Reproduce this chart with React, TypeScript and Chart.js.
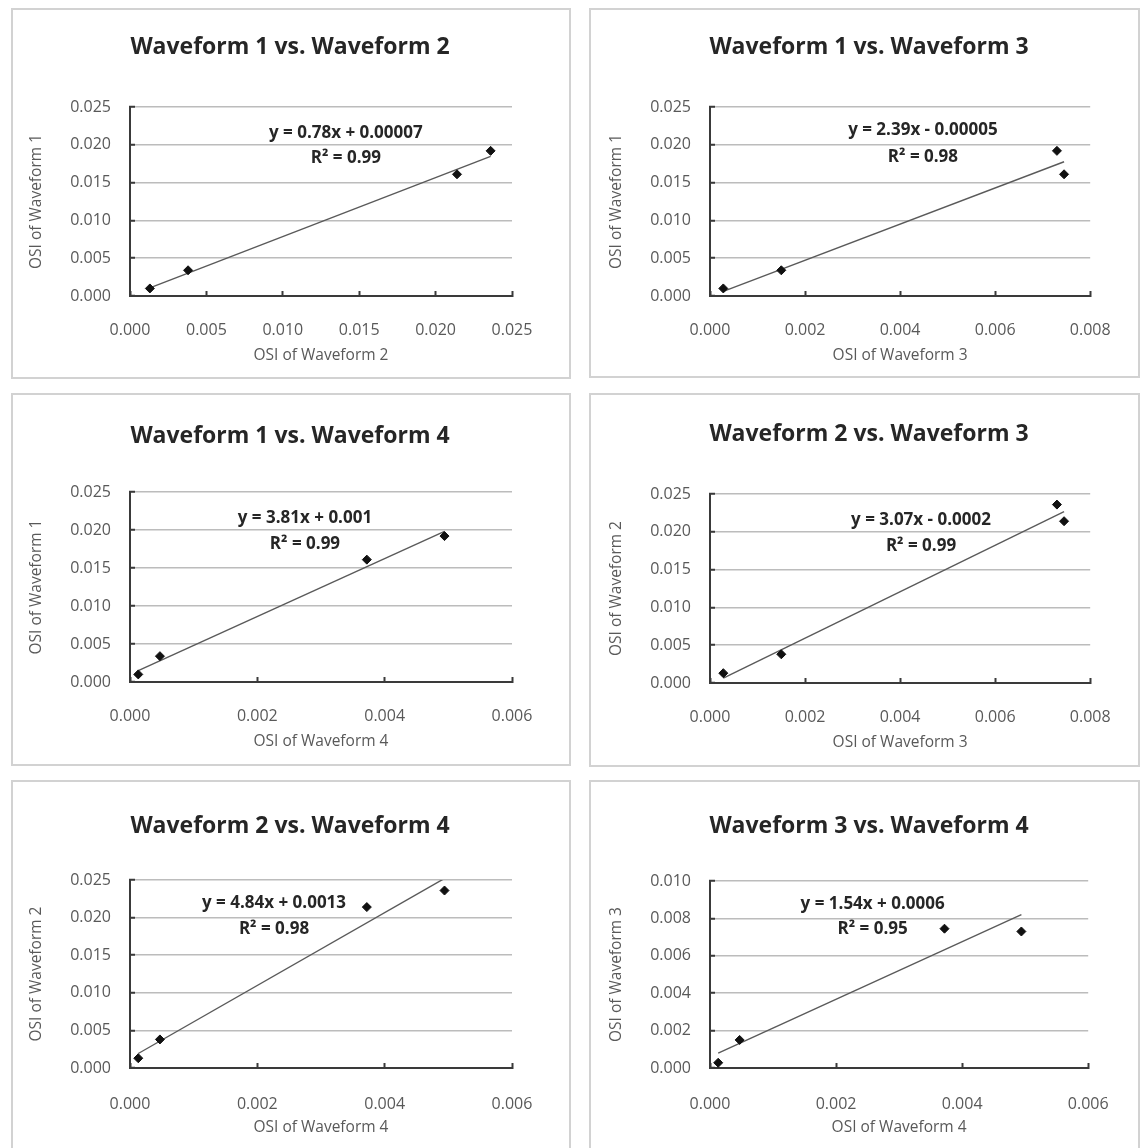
import React, { useEffect, useRef } from "react";
import { Chart, registerables } from "chart.js";

Chart.register(...registerables);

// ---- data ----
const WAVEFORM_1 = [0.001, 0.0034, 0.0161, 0.0192];
const WAVEFORM_2 = [0.0013, 0.0038, 0.0214, 0.0236];
const WAVEFORM_3 = [0.00028, 0.0015, 0.00745, 0.0073];
const WAVEFORM_4 = [0.00013, 0.00047, 0.00372, 0.00494];
const WAVEFORMS = [WAVEFORM_1, WAVEFORM_2, WAVEFORM_3, WAVEFORM_4];

// waveform number plotted on x and y in each panel
const PANEL_X = [2, 3, 4, 3, 4, 4];
const PANEL_Y = [1, 1, 1, 2, 2, 3];

const SLOPES = [0.78, 2.39, 3.81, 3.07, 4.84, 1.54];
const INTERCEPTS = [0.00007, -0.00005, 0.001, -0.0002, 0.0013, 0.0006];
const R_SQUARED = [0.99, 0.98, 0.99, 0.99, 0.98, 0.95];

const TICKS_025 = [0, 0.005, 0.01, 0.015, 0.02, 0.025];
const TICKS_008 = [0, 0.002, 0.004, 0.006, 0.008];
const TICKS_006 = [0, 0.002, 0.004, 0.006];
const TICKS_010 = [0, 0.002, 0.004, 0.006, 0.008, 0.01];
const X_TICKS = [TICKS_025, TICKS_008, TICKS_006, TICKS_008, TICKS_006, TICKS_006];
const Y_TICKS = [TICKS_025, TICKS_025, TICKS_025, TICKS_025, TICKS_025, TICKS_010];

// ---- layout (page pixels) ----
type Lay = {
  box: number[]; // x, y, w, h
  plot: number[]; // left, right, top, bottom
  titleX: number;
  titleY: number;
  xTickY: number;
  xTitleY: number;
  yTitleX: number;
  eq: number[]; // fraction x, fraction y (eq), fraction y (r2)
};
const LAYOUT: Lay[] = [
  { box: [11, 8, 560, 371], plot: [130, 512, 107, 296], titleX: 290, titleY: 47, xTickY: 330, xTitleY: 356, yTitleX: 37, eq: [0.565, 0.138, 0.27] },
  { box: [589, 8, 551, 370], plot: [710, 1091, 107, 296], titleX: 869, titleY: 47, xTickY: 330, xTitleY: 356, yTitleX: 617, eq: [0.56, 0.12, 0.265] },
  { box: [11, 393, 560, 373], plot: [130, 512, 492, 682], titleX: 290, titleY: 436, xTickY: 716, xTitleY: 742, yTitleX: 37, eq: [0.458, 0.137, 0.274] },
  { box: [589, 393, 551, 374], plot: [710, 1091, 494, 683], titleX: 869, titleY: 434, xTickY: 717, xTitleY: 743, yTitleX: 617, eq: [0.555, 0.138, 0.275] },
  { box: [11, 780, 560, 370], plot: [130, 512, 880, 1068], titleX: 290, titleY: 826, xTickY: 1104, xTitleY: 1128, yTitleX: 37, eq: [0.377, 0.122, 0.26] },
  { box: [589, 780, 551, 370], plot: [710, 1091, 881, 1068], titleX: 869, titleY: 826, xTickY: 1104, xTitleY: 1128, yTitleX: 617, eq: [0.43, 0.122, 0.26] },
];

const FONT = "'Open Sans', 'DejaVu Sans', sans-serif";
const TITLE_SIZE = 23;
const TICK_SIZE = 16;
const AXIS_TITLE_SIZE = 15.5;
const EQ_SIZE = 17;
const AXIS_COLOR = "#3a3a3a";
const GRID_COLOR = "#bcbcbc";
const LABEL_COLOR = "#595959";
const TEXT_COLOR = "#262626";
const TICK_LEN = 5;

function fmtNum(v: number) {
  return String(Math.abs(v));
}

function Panel({ i }: { i: number }) {
  const ref = useRef<HTMLCanvasElement | null>(null);
  const L = LAYOUT[i];
  const [bx, by, bw, bh] = L.box;

  useEffect(() => {
    const [pl, pr, pt, pb] = L.plot;
    const xs = WAVEFORMS[PANEL_X[i] - 1];
    const ys = WAVEFORMS[PANEL_Y[i] - 1];
    const xTicks = X_TICKS[i];
    const yTicks = Y_TICKS[i];
    const slope = SLOPES[i];
    const icpt = INTERCEPTS[i];
    const xmin = Math.min(...xs);
    const xmax = Math.max(...xs);

    const lhT = TITLE_SIZE * 1.2;
    const lhX = TICK_SIZE * 1.2;
    const lhA = AXIS_TITLE_SIZE * 1.2;
    const rp = bx + bw - pr;
    const lp = 2 * (L.titleX - bx) - bw + rp;
    const yW = pl - bx - lp;
    const yTitlePad = L.yTitleX - bx - lp - lhA / 2;
    const tPadTop = L.titleY - by - lhT / 2;
    const tPadBottom = pt - by - tPadTop - lhT;
    const xTickPad = L.xTickY - pb - lhX / 2 + TICK_LEN;
    const xH = L.xTitleY + lhA / 2 - pb;
    const bottomPad = by + bh - (pb + xH);

    const eqText = `y = ${slope}x ${icpt < 0 ? "-" : "+"} ${fmtNum(icpt)}`;
    const r2Text = `R\u00B2 = ${R_SQUARED[i].toFixed(2)}`;

    const framePlugin = {
      id: "frame",
      beforeDraw(chart: any) {
        const { ctx, width, height } = chart;
        ctx.save();
        ctx.fillStyle = "#ffffff";
        ctx.fillRect(0, 0, width, height);
        ctx.strokeStyle = "#d2d2d2";
        ctx.lineWidth = 2;
        ctx.strokeRect(1, 1, width - 2, height - 2);
        ctx.restore();
      },
    };
    const eqPlugin = {
      id: "equation",
      afterDatasetsDraw(chart: any) {
        const { ctx, chartArea: a } = chart;
        const [fx, fy1, fy2] = L.eq;
        const x = a.left + fx * (a.right - a.left);
        ctx.save();
        ctx.font = `bold ${EQ_SIZE}px ${FONT}`;
        ctx.fillStyle = TEXT_COLOR;
        ctx.textAlign = "center";
        ctx.textBaseline = "middle";
        ctx.fillText(eqText, x, a.top + fy1 * (a.bottom - a.top));
        ctx.fillText(r2Text, x, a.top + fy2 * (a.bottom - a.top));
        ctx.restore();
      },
    };

    const chart = new Chart(ref.current as HTMLCanvasElement, {
      type: "scatter",
      data: {
        datasets: [
          {
            label: "points",
            data: xs.map((x, k) => ({ x, y: ys[k] })),
            pointStyle: "rectRot",
            pointRadius: 4.5,
            backgroundColor: "#111111",
            borderColor: "#111111",
            borderWidth: 1,
            order: 1,
          },
          {
            label: "trend",
            data: [
              { x: xmin, y: slope * xmin + icpt },
              { x: xmax, y: slope * xmax + icpt },
            ],
            showLine: true,
            borderColor: "#5a5a5a",
            borderWidth: 1.4,
            pointRadius: 0,
            fill: false,
            order: 2,
          } as any,
        ],
      },
      options: {
        responsive: false,
        animation: false,
        devicePixelRatio: 1,
        events: [],
        layout: { padding: { left: lp, right: rp, top: 0, bottom: bottomPad } },
        plugins: {
          legend: { display: false },
          tooltip: { enabled: false },
          title: {
            display: true,
            text: `Waveform ${PANEL_Y[i]} vs. Waveform ${PANEL_X[i]}`,
            color: TEXT_COLOR,
            font: { family: FONT, size: TITLE_SIZE, weight: "bold" },
            padding: { top: tPadTop, bottom: tPadBottom },
          },
        },
        scales: {
          x: {
            type: "linear",
            position: "bottom",
            min: xTicks[0],
            max: xTicks[xTicks.length - 1],
            afterBuildTicks: (s: any) => {
              s.ticks = xTicks.map((v) => ({ value: v }));
            },
            afterFit: (s: any) => {
              s.height = xH;
            },
            ticks: {
              padding: xTickPad,
              color: LABEL_COLOR,
              font: { family: FONT, size: TICK_SIZE },
              maxRotation: 0,
              autoSkip: false,
              callback: (v: any) => Number(v).toFixed(3),
            },
            grid: {
              display: true,
              drawOnChartArea: false,
              drawTicks: true,
              tickLength: -TICK_LEN,
              tickColor: AXIS_COLOR,
              tickWidth: 2,
            },
            border: { display: true, color: AXIS_COLOR, width: 2 },
            title: {
              display: true,
              text: `OSI of Waveform ${PANEL_X[i]}`,
              color: LABEL_COLOR,
              font: { family: FONT, size: AXIS_TITLE_SIZE },
              padding: { top: 0, bottom: 0 },
            },
          },
          y: {
            type: "linear",
            position: "left",
            min: yTicks[0],
            max: yTicks[yTicks.length - 1],
            afterBuildTicks: (s: any) => {
              s.ticks = yTicks.map((v) => ({ value: v }));
            },
            afterFit: (s: any) => {
              s.width = yW;
            },
            ticks: {
              padding: 19 + TICK_LEN,
              color: LABEL_COLOR,
              font: { family: FONT, size: TICK_SIZE },
              autoSkip: false,
              callback: (v: any) => Number(v).toFixed(3),
            },
            grid: {
              display: true,
              color: GRID_COLOR,
              lineWidth: 1.5,
              drawTicks: true,
              tickLength: -TICK_LEN,
              tickColor: AXIS_COLOR,
              tickWidth: 2,
            },
            border: { display: true, color: AXIS_COLOR, width: 2 },
            title: {
              display: true,
              text: `OSI of Waveform ${PANEL_Y[i]}`,
              color: LABEL_COLOR,
              font: { family: FONT, size: AXIS_TITLE_SIZE },
              padding: { top: yTitlePad, bottom: 0 },
            },
          },
        },
      } as any,
      plugins: [framePlugin, eqPlugin],
    });
    return () => chart.destroy();
  }, [i]);

  return (
    <canvas
      ref={ref}
      width={bw}
      height={bh}
      style={{ position: "absolute", left: bx, top: by, width: bw, height: bh }}
    />
  );
}

export default function App() {
  return (
    <div
      style={{
        position: "absolute",
        left: 0,
        top: 0,
        width: 1144,
        height: 1148,
        overflow: "hidden",
        background: "#ffffff",
      }}
    >
      {LAYOUT.map((_, i) => (
        <Panel key={i} i={i} />
      ))}
    </div>
  );
}
